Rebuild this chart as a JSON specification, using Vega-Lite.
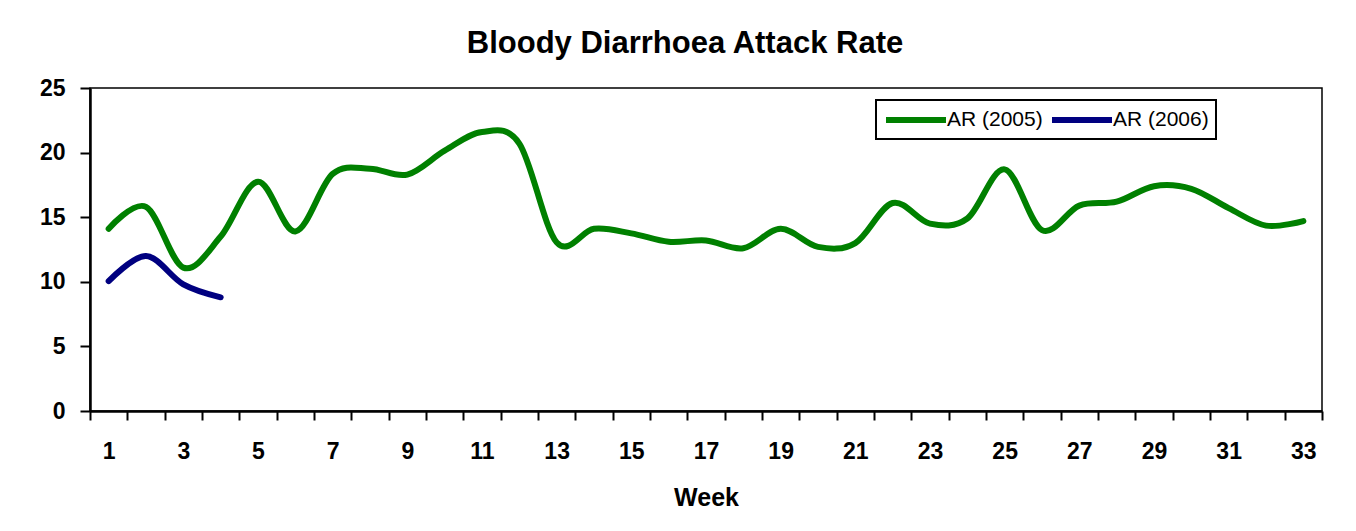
{
  "$schema": "https://vega.github.io/schema/vega-lite/v6.json",
  "width": 1232,
  "height": 323,
  "autosize": "none",
  "padding": {"left": 90, "top": 88, "right": 34, "bottom": 120},
  "background": "white",
  "title": {
    "text": "Bloody Diarrhoea Attack Rate",
    "font": "Liberation Sans",
    "fontSize": 31,
    "fontWeight": "bold",
    "color": "black",
    "anchor": "middle",
    "frame": "group",
    "baseline": "alphabetic",
    "offset": 35,
    "dy": 42,
    "dx": -21
  },
  "data": {
    "values": [
      {"week": 1, "series": "AR (2005)", "rate": 14.1},
      {"week": 2, "series": "AR (2005)", "rate": 15.8},
      {"week": 3, "series": "AR (2005)", "rate": 11.1},
      {"week": 4, "series": "AR (2005)", "rate": 13.5},
      {"week": 5, "series": "AR (2005)", "rate": 17.75},
      {"week": 6, "series": "AR (2005)", "rate": 13.9},
      {"week": 7, "series": "AR (2005)", "rate": 18.35},
      {"week": 8, "series": "AR (2005)", "rate": 18.75},
      {"week": 9, "series": "AR (2005)", "rate": 18.3},
      {"week": 10, "series": "AR (2005)", "rate": 20.15},
      {"week": 11, "series": "AR (2005)", "rate": 21.6},
      {"week": 12, "series": "AR (2005)", "rate": 20.7},
      {"week": 13, "series": "AR (2005)", "rate": 13.05},
      {"week": 14, "series": "AR (2005)", "rate": 14.1},
      {"week": 15, "series": "AR (2005)", "rate": 13.75},
      {"week": 16, "series": "AR (2005)", "rate": 13.1},
      {"week": 17, "series": "AR (2005)", "rate": 13.2},
      {"week": 18, "series": "AR (2005)", "rate": 12.6},
      {"week": 19, "series": "AR (2005)", "rate": 14.1},
      {"week": 20, "series": "AR (2005)", "rate": 12.7},
      {"week": 21, "series": "AR (2005)", "rate": 13.0},
      {"week": 22, "series": "AR (2005)", "rate": 16.1},
      {"week": 23, "series": "AR (2005)", "rate": 14.5},
      {"week": 24, "series": "AR (2005)", "rate": 14.9},
      {"week": 25, "series": "AR (2005)", "rate": 18.7},
      {"week": 26, "series": "AR (2005)", "rate": 14.0},
      {"week": 27, "series": "AR (2005)", "rate": 15.9},
      {"week": 28, "series": "AR (2005)", "rate": 16.2},
      {"week": 29, "series": "AR (2005)", "rate": 17.4},
      {"week": 30, "series": "AR (2005)", "rate": 17.2},
      {"week": 31, "series": "AR (2005)", "rate": 15.7},
      {"week": 32, "series": "AR (2005)", "rate": 14.35},
      {"week": 33, "series": "AR (2005)", "rate": 14.7},
      {"week": 1, "series": "AR (2006)", "rate": 10.05},
      {"week": 2, "series": "AR (2006)", "rate": 12.0},
      {"week": 3, "series": "AR (2006)", "rate": 9.8},
      {"week": 4, "series": "AR (2006)", "rate": 8.8}
    ]
  },
  "mark": {
    "type": "line",
    "strokeWidth": 6,
    "strokeCap": "round",
    "strokeJoin": "round",
    "interpolate": "cardinal",
    "tension": 0
  },
  "encoding": {
    "x": {
      "field": "week",
      "type": "ordinal",
      "bandPosition": 0.5,
      "scale": {"type": "band", "paddingInner": 0, "paddingOuter": 0},
      "axis": {
        "title": "Week",
        "labelExpr": "datum.value % 2 == 1 ? datum.label : ''",
        "labelAngle": 0,
        "tickBand": "extent",
        "tickSize": 9,
        "tickWidth": 2,
        "tickColor": "black",
        "domainColor": "black",
        "domainWidth": 2.5,
        "labelFont": "Liberation Sans",
        "labelFontSize": 23,
        "labelFontWeight": "bold",
        "labelColor": "black",
        "labelPadding": 20,
        "labelBaseline": "top",
        "titleFont": "Liberation Sans",
        "titleFontSize": 25,
        "titleFontWeight": "bold",
        "titleColor": "black",
        "titlePadding": 22,
        "grid": false
      }
    },
    "y": {
      "field": "rate",
      "type": "quantitative",
      "scale": {"domain": [0, 25], "nice": false},
      "axis": {
        "title": null,
        "values": [0, 5, 10, 15, 20, 25],
        "tickSize": 10,
        "tickWidth": 2,
        "tickColor": "black",
        "domainColor": "black",
        "domainWidth": 2.5,
        "labelFont": "Liberation Sans",
        "labelFontSize": 23,
        "labelFontWeight": "bold",
        "labelColor": "black",
        "labelPadding": 15,
        "grid": false
      }
    },
    "color": {
      "field": "series",
      "type": "nominal",
      "scale": {"domain": ["AR (2005)", "AR (2006)"], "range": ["#008000", "#000080"]},
      "legend": {
        "title": null,
        "orient": "none",
        "legendX": 786,
        "legendY": 12,
        "direction": "horizontal",
        "symbolType": "M-1,0H5",
        "symbolSize": 400,
        "symbolStrokeWidth": 6,
        "labelFont": "Liberation Sans",
        "labelFontSize": 21,
        "labelColor": "black",
        "labelOffset": 38,
        "columnPadding": -3,
        "padding": 7,
        "strokeColor": "black"
      }
    }
  },
  "config": {
    "view": {"stroke": "black", "strokeWidth": 1.5},
    "legend": {"strokeWidth": 2, "symbolStrokeCap": "round"}
  }
}
